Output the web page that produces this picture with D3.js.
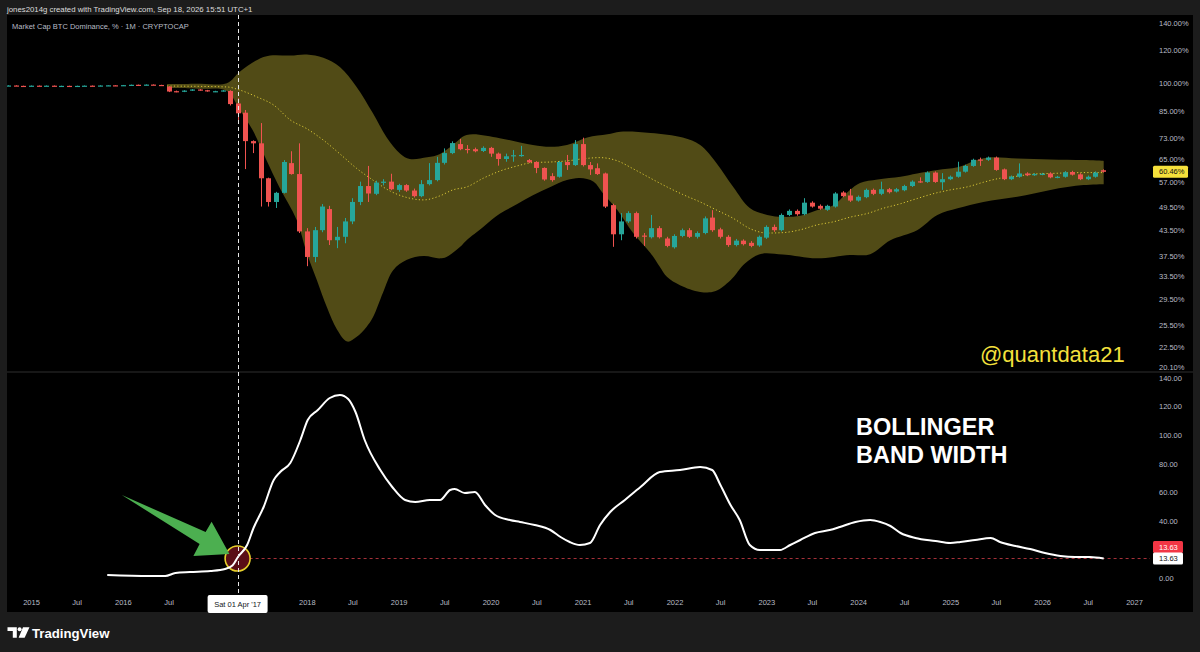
<!DOCTYPE html>
<html><head><meta charset="utf-8">
<script src="https://cdn.jsdelivr.net/npm/d3@7"></script>
<style>
html,body{margin:0;padding:0;background:#1c1c1c;}
svg{display:block;}
text{font-family:"Liberation Sans",Arial,sans-serif;}
</style></head><body>
<svg id="c" width="1200" height="652"></svg>
<script>
// ---------------- DATA ----------------
const months = [
 "2014-10","2014-11","2014-12",
 "2015-01","2015-02","2015-03","2015-04","2015-05","2015-06","2015-07","2015-08","2015-09","2015-10","2015-11","2015-12",
 "2016-01","2016-02","2016-03","2016-04","2016-05","2016-06","2016-07","2016-08","2016-09","2016-10","2016-11","2016-12",
 "2017-01","2017-02","2017-03","2017-04","2017-05","2017-06","2017-07","2017-08","2017-09","2017-10","2017-11","2017-12",
 "2018-01","2018-02","2018-03","2018-04","2018-05","2018-06","2018-07","2018-08","2018-09","2018-10","2018-11","2018-12",
 "2019-01","2019-02","2019-03","2019-04","2019-05","2019-06","2019-07","2019-08","2019-09","2019-10","2019-11","2019-12",
 "2020-01","2020-02","2020-03","2020-04","2020-05","2020-06","2020-07","2020-08","2020-09","2020-10","2020-11","2020-12",
 "2021-01","2021-02","2021-03","2021-04","2021-05","2021-06","2021-07","2021-08","2021-09","2021-10","2021-11","2021-12",
 "2022-01","2022-02","2022-03","2022-04","2022-05","2022-06","2022-07","2022-08","2022-09","2022-10","2022-11","2022-12",
 "2023-01","2023-02","2023-03","2023-04","2023-05","2023-06","2023-07","2023-08","2023-09","2023-10","2023-11","2023-12",
 "2024-01","2024-02","2024-03","2024-04","2024-05","2024-06","2024-07","2024-08","2024-09","2024-10","2024-11","2024-12",
 "2025-01","2025-02","2025-03","2025-04","2025-05","2025-06","2025-07","2025-08","2025-09","2025-10","2025-11","2025-12",
 "2026-01","2026-02","2026-03","2026-04","2026-05","2026-06","2026-07","2026-08","2026-09"
];
const opens = [
 98.2,98.4,98.2,
 98.1,98.3,98.2,98.3,98.1,98.2,98.0,98.2,98.3,98.1,98.4,98.5,
 98.3,98.6,98.8,98.6,98.9,98.7,97.8,95.3,95.0,95.6,96.2,95.8,
 95.0,95.3,95.4,88.9,84.4,71.9,71.0,58.3,51.0,53.7,63.5,59.7,
 43.2,37.4,43.5,49.0,41.1,41.9,45.7,51.0,55.8,53.4,56.8,57.2,
 54.6,56.1,54.4,52.7,56.4,57.7,63.6,67.2,70.7,68.8,68.7,68.0,
 69.2,67.0,65.0,66.0,66.2,64.6,63.9,61.8,59.0,58.8,63.9,62.8,
 70.7,62.8,61.7,59.9,50.1,42.5,45.7,47.9,42.2,41.8,44.0,41.5,
 39.5,42.1,43.5,41.9,42.8,46.7,43.7,41.9,40.0,41.0,40.5,39.9,
 41.7,44.3,43.5,47.4,48.5,47.6,50.8,49.9,48.8,49.7,53.8,52.9,
 51.4,52.4,54.6,53.4,54.8,54.1,54.5,55.8,57.3,57.1,60.2,57.0,
 58.0,58.8,60.5,62.5,64.8,64.7,65.5,61.3,58.0,58.8,59.9,59.4,
 59.6,59.9,58.6,58.8,60.4,59.6,58.0,58.8,61.0
];
const closes = [
 98.4,98.2,98.1,
 98.3,98.2,98.3,98.1,98.2,98.0,98.2,98.3,98.1,98.4,98.5,98.3,
 98.6,98.8,98.6,98.9,98.7,98.6,95.1,94.9,95.6,96.2,95.8,95.2,
 95.3,95.7,88.6,84.1,71.9,71.0,58.3,51.0,53.7,63.9,59.7,43.2,
 37.4,43.5,49.7,41.1,41.9,45.7,51.0,55.8,53.5,56.9,57.2,54.8,
 56.1,54.4,52.7,56.4,57.7,63.6,67.2,71.1,68.7,68.5,67.9,69.2,
 67.0,65.0,66.0,66.4,66.5,63.8,61.8,57.9,57.7,63.9,62.8,70.7,
 62.8,61.3,59.7,49.7,42.5,45.7,47.9,41.9,42.0,44.0,41.8,39.8,
 42.1,43.5,41.9,42.8,46.5,43.5,41.9,40.0,41.0,40.2,39.8,41.9,
 44.3,43.5,47.4,48.5,47.6,50.8,49.7,49.1,49.9,53.5,52.7,51.4,
 52.5,54.6,53.4,54.8,53.9,54.8,55.8,57.2,57.1,60.2,57.1,58.0,
 58.8,60.5,62.5,64.7,64.6,65.5,61.1,58.0,58.8,59.9,59.3,59.7,
 59.8,58.6,58.8,60.3,59.5,58.0,58.8,60.2,60.46
];
const highs = [
 98.5,98.5,98.3,
 98.4,98.4,98.4,98.4,98.3,98.3,98.3,98.4,98.4,98.5,98.6,98.6,
 98.7,98.9,98.9,99.0,99.0,98.8,98.0,95.6,95.8,96.4,96.4,96.0,
 95.5,95.9,95.8,91.6,85.7,72.2,79.6,58.5,54.0,64.6,67.9,71.0,
 44.0,44.3,50.4,49.9,44.3,46.6,52.1,57.2,62.5,57.5,58.0,59.8,
 56.5,56.4,55.0,57.7,63.5,65.8,69.0,71.8,72.8,70.3,69.3,69.8,
 69.6,67.4,67.0,68.4,70.0,65.0,64.2,62.0,60.0,64.3,66.5,72.3,
 73.3,63.9,63.4,60.2,50.5,47.9,48.4,48.3,42.8,47.4,44.5,41.9,
 42.5,43.9,44.0,43.2,47.0,48.7,44.1,42.3,41.4,41.3,40.9,42.2,
 44.7,44.9,47.8,48.9,48.9,52.1,51.2,50.3,50.2,53.9,54.2,54.9,
 52.9,55.0,55.0,57.2,55.2,55.2,56.2,57.6,58.6,60.6,60.6,60.0,
 59.2,64.0,62.9,65.1,65.5,65.9,65.9,61.6,59.2,63.4,60.3,60.0,
 60.1,60.3,59.1,60.7,60.8,60.0,59.2,60.6,61.3
];
const lows = [
 98.1,98.1,98.0,
 98.0,98.1,98.1,98.0,98.0,97.9,97.9,98.1,98.0,98.0,98.3,98.2,
 98.2,98.5,98.5,98.5,98.6,98.5,94.8,94.7,94.8,95.4,95.6,95.0,
 94.8,95.1,87.9,81.0,61.4,67.2,49.7,49.7,49.3,53.5,59.5,42.8,
 35.5,36.3,43.0,40.0,39.3,40.4,45.0,50.1,51.0,53.0,56.0,54.5,
 54.0,54.0,52.3,52.4,56.0,57.3,63.0,66.8,68.3,67.1,67.5,67.6,
 65.8,62.6,64.0,64.0,65.8,63.5,60.0,57.5,57.2,58.5,61.1,62.5,
 62.3,59.4,59.4,49.3,39.6,41.1,45.3,41.5,39.8,41.5,41.5,39.5,
 39.2,41.8,41.6,41.5,42.5,43.1,41.5,39.6,39.7,39.9,39.5,39.6,
 41.4,43.1,43.2,47.1,47.2,47.3,49.4,48.8,48.5,49.4,52.4,51.0,
 51.1,52.1,53.0,53.0,53.5,53.8,54.2,55.5,56.8,56.8,56.8,54.6,
 57.7,58.5,60.2,62.2,62.5,64.3,60.8,57.7,57.7,58.5,59.0,59.1,
 59.3,58.3,58.3,58.5,59.2,57.7,57.7,58.5,60.2
];
// Bollinger Bands (20, 2), positions in decimal years
const upperYears = [2016.48,2016.84,2017.13,2017.27,2017.46,2017.60,2017.82,2018.00,2018.18,2018.36,2018.54,2018.72,2018.87,2019.02,2019.12,2019.31,2019.45,2019.59,2019.74,2020.10,2020.46,2020.65,2020.83,2021.05,2021.27,2021.41,2021.74,2022.09,2022.28,2022.46,2022.64,2022.82,2023.01,2023.18,2023.37,2023.55,2023.73,2023.91,2024.02,2024.21,2024.46,2024.64,2024.86,2025.08,2025.29,2025.44,2025.73,2026.09,2026.45,2026.67];
const upperValues = [99.2,99.4,99.6,106.3,113.7,116.5,116.5,117.2,115.0,109.2,97.7,84.1,73.4,66.9,65.0,65.6,66.9,70.3,74.4,73.1,70.3,69.6,70.3,73.4,74.7,75.8,75.3,73.4,70.3,63.4,55.5,49.3,47.4,46.9,47.2,48.7,50.1,54.6,56.8,57.9,58.8,59.9,61.1,62.0,64.6,65.6,65.2,64.8,64.6,64.3];
const lowerYears = [2016.48,2016.84,2017.13,2017.27,2017.41,2017.56,2017.70,2017.89,2018.00,2018.11,2018.22,2018.33,2018.44,2018.54,2018.65,2018.72,2018.83,2018.94,2019.09,2019.27,2019.45,2019.52,2019.67,2019.74,2019.92,2020.10,2020.29,2020.46,2020.65,2020.83,2020.97,2021.12,2021.22,2021.38,2021.55,2021.74,2021.84,2021.92,2022.06,2022.28,2022.44,2022.61,2022.77,2022.93,2023.18,2023.55,2023.91,2024.13,2024.35,2024.64,2024.86,2025.08,2025.36,2025.73,2026.09,2026.45,2026.67];
const lowerValues = [97.0,96.6,95.4,85.7,76.5,64.6,55.5,46.1,38.2,32.8,28.1,24.8,23.2,23.8,25.2,26.6,30.6,34.7,36.8,37.6,37.1,37.4,39.6,41.1,44.3,47.7,50.4,53.0,55.5,57.7,58.4,57.2,53.6,48.7,42.8,38.2,35.4,33.4,31.9,30.7,30.8,32.8,36.1,38.0,37.9,37.1,37.8,38.0,41.1,43.5,47.4,49.2,51.0,52.5,54.6,56.1,56.4];
const basisYears = [2016.48,2017.13,2017.27,2017.46,2017.64,2017.82,2018.00,2018.18,2018.36,2018.54,2018.72,2018.91,2019.09,2019.27,2019.45,2019.59,2019.74,2019.92,2020.10,2020.29,2020.46,2020.65,2020.83,2021.01,2021.19,2021.38,2021.55,2021.74,2021.92,2022.09,2022.28,2022.46,2022.64,2022.82,2023.01,2023.18,2023.37,2023.55,2023.73,2023.91,2024.10,2024.27,2024.46,2024.64,2024.81,2025.00,2025.18,2025.36,2025.54,2025.73,2025.90,2026.09,2026.45,2026.67];
const basisValues = [98.1,97.6,95.9,92.2,88.1,81.0,77.1,72.3,66.9,61.7,57.7,54.2,52.3,51.6,52.8,54.6,55.5,58.3,60.7,62.5,63.7,63.9,64.3,65.1,65.5,64.3,61.5,58.3,55.5,53.2,51.0,48.7,46.5,43.9,42.8,42.9,43.6,44.8,45.6,46.8,47.8,49.2,50.5,52.0,53.4,54.6,55.5,57.0,58.3,59.0,59.7,59.9,60.2,60.2];
// Bollinger Band Width
const bbwYears = [2015.83,2016.29,2016.46,2016.57,2016.73,2016.95,2017.11,2017.19,2017.25,2017.35,2017.42,2017.53,2017.64,2017.71,2017.82,2017.93,2018.01,2018.12,2018.25,2018.36,2018.45,2018.53,2018.63,2018.80,2018.93,2019.07,2019.18,2019.34,2019.45,2019.56,2019.61,2019.72,2019.83,2019.94,2020.05,2020.21,2020.32,2020.48,2020.65,2020.76,2020.86,2020.97,2021.08,2021.19,2021.30,2021.46,2021.63,2021.84,2022.06,2022.28,2022.41,2022.50,2022.61,2022.71,2022.82,2022.93,2023.15,2023.26,2023.37,2023.53,2023.69,2023.80,2023.97,2024.13,2024.24,2024.35,2024.46,2024.62,2024.84,2025.00,2025.11,2025.27,2025.44,2025.54,2025.71,2025.87,2026.03,2026.20,2026.36,2026.52,2026.67];
const bbwValues = [2.1,1.4,1.4,3.5,4.2,4.9,6.3,8.7,14.7,23.1,35.0,49.7,68.6,74.2,80.5,96.6,110.6,117.6,126.0,128.1,125.3,116.2,96.6,75.6,63.7,54.6,53.2,54.6,54.6,61.6,62.3,59.5,60.2,51.1,44.1,40.6,39.2,37.1,33.6,28.7,25.2,23.1,24.5,37.1,46.2,54.6,63.7,74.2,75.6,77.7,75.6,65.1,51.1,40.6,23.1,19.6,19.6,23.1,26.6,31.5,33.6,35.7,39.2,40.6,39.2,36.4,31.5,28.0,25.9,24.5,25.2,26.6,28.0,25.2,22.4,20.3,17.5,15.4,14.7,14.7,13.63];
// Axis ticks
const priceTicks = [140,120,100,85,73,65,57,49.5,43.5,37.5,33.5,29.5,25.5,22.5,20.1];
const bbwTicks = [0,40,60,80,100,120,140];
const timeTickLabels = ["2015","Jul","2016","Jul","2017","Jul","2018","Jul","2019","Jul","2020","Jul","2021","Jul","2022","Jul","2023","Jul","2024","Jul","2025","Jul","2026","Jul","2027"];
const lastPrice = 60.46, lastBBW = 13.63;
const crosshairMonth = "2017-04", crosshairLabel = "Sat 01 Apr '17";

// ---------------- RENDER ----------------
const svg = d3.select("#c");
const W = 1200, H = 652;
const L = 7, R = 1193, T = 15, B = 612, plotR = 1150;
const paneSplit = 372, timeTop = 592;
const parseMonth = d3.utcParse("%Y-%m");
function fromDecimalYear(v){const yr=Math.floor(v);const a=Date.UTC(yr,0,1),b=Date.UTC(yr+1,0,1);return new Date(a+(v-yr)*(b-a));}

const x = d3.scaleUtc().domain([new Date(Date.UTC(2015,0,1)), new Date(Date.UTC(2027,0,1))]).range([31,1134]);
const yTop = d3.scaleLog().domain([20.1,140]).range([367,23]);
const yBot = d3.scaleLinear().domain([0,140]).range([578,378]);

svg.append("rect").attr("width",W).attr("height",H).attr("fill","#1c1c1c");
svg.append("rect").attr("x",L).attr("y",T).attr("width",R-L).attr("height",B-T).attr("fill","#000");

// header
svg.append("text").attr("x",7).attr("y",12).attr("font-size","7.8px").attr("fill","#dcdcdc")
  .text("jones2014g created with TradingView.com, Sep 18, 2026 15:51 UTC+1");

const defs = svg.append("defs");
defs.append("clipPath").attr("id","clipTop").append("rect").attr("x",L).attr("y",T).attr("width",plotR-L).attr("height",paneSplit-T);
defs.append("clipPath").attr("id","clipBot").append("rect").attr("x",L).attr("y",paneSplit).attr("width",plotR-L).attr("height",timeTop-paneSplit);

// pane separator
svg.append("line").attr("x1",L).attr("x2",R).attr("y1",paneSplit).attr("y2",paneSplit).attr("stroke","#2e2e2e").attr("stroke-width",1);

const topPane = svg.append("g").attr("clip-path","url(#clipTop)");
const curve = d3.curveCatmullRom.alpha(0.5);
const upPts = upperYears.map((d,i)=>[x(fromDecimalYear(d)), yTop(upperValues[i])]);
const loPts = lowerYears.map((d,i)=>[x(fromDecimalYear(d)), yTop(lowerValues[i])]).reverse();
const ln = d3.line().curve(curve);
const bandPath = ln(upPts) + "L" + ln(loPts).slice(1) + "Z";
topPane.append("path").attr("d",bandPath).attr("fill","#514b16");

topPane.append("path")
  .attr("d", d3.line().curve(d3.curveMonotoneX).x(d=>x(fromDecimalYear(d[0]))).y(d=>yTop(d[1]))(basisYears.map((d,i)=>[d,basisValues[i]])))
  .attr("fill","none").attr("stroke","#d8c636").attr("stroke-width",1).attr("stroke-dasharray","1.2 2.2");

const upColor = "#26a69a", dnColor = "#ef5350";
const candles = months.map((m,i)=>({d:parseMonth(m),o:opens[i],h:highs[i],l:lows[i],c:closes[i]}));
const cg = topPane.append("g");
cg.selectAll("line").data(candles).join("line")
  .attr("x1",d=>Math.round(x(d.d))+0.5).attr("x2",d=>Math.round(x(d.d))+0.5)
  .attr("y1",d=>yTop(d.h)).attr("y2",d=>yTop(d.l))
  .attr("stroke",d=>d.c>=d.o?upColor:dnColor).attr("stroke-width",1);
cg.selectAll("rect").data(candles).join("rect")
  .attr("x",d=>Math.round(x(d.d))-2).attr("width",5)
  .attr("y",d=>yTop(Math.max(d.o,d.c)))
  .attr("height",d=>Math.max(1.2, yTop(Math.min(d.o,d.c))-yTop(Math.max(d.o,d.c))))
  .attr("fill",d=>d.c>=d.o?upColor:dnColor);

// legend & watermark
svg.append("text").attr("x",12).attr("y",29).attr("font-size","7.5px").attr("fill","#b8bcc6")
  .text("Market Cap BTC Dominance, % · 1M · CRYPTOCAP");
svg.append("text").attr("x",980).attr("y",362).attr("font-size","22px").attr("fill","#f4e03c")
  .text("@quantdata21");

// ---- bottom pane ----
const botPane = svg.append("g").attr("clip-path","url(#clipBot)");
const chX = x(parseMonth(crosshairMonth));
const cy = yBot(lastBBW);
botPane.append("line").attr("x1",chX).attr("x2",plotR).attr("y1",cy).attr("y2",cy)
  .attr("stroke","#a8323a").attr("stroke-width",1).attr("stroke-dasharray","3 3");
botPane.append("circle").attr("cx",chX).attr("cy",cy).attr("r",12.5)
  .attr("fill","#5a0e16").attr("stroke","#e6cf2b").attr("stroke-width",1.6);
botPane.append("path")
  .attr("d", d3.line().curve(d3.curveMonotoneX).x(d=>x(fromDecimalYear(d[0]))).y(d=>yBot(d[1]))(bbwYears.map((d,i)=>[d,bbwValues[i]])))
  .attr("fill","none").attr("stroke","#ffffff").attr("stroke-width",2);
const arrowOffsets = [[-115.8,-63.5],[-32,-26.5],[-26,-36.8],[-8.2,-4.5],[-44.2,-2.5],[-38,-14.5]];
botPane.append("path").attr("d","M"+arrowOffsets.map(p=>[chX+p[0],cy+p[1]].join(",")).join("L")+"Z")
  .attr("fill","#4caf50");

svg.append("text").attr("x",856).attr("y",435).attr("font-size","23.5px").attr("font-weight","bold").attr("fill","#fff").text("BOLLINGER");
svg.append("text").attr("x",856).attr("y",463).attr("font-size","23.5px").attr("font-weight","bold").attr("fill","#fff").text("BAND WIDTH");

// crosshair vertical
svg.append("line").attr("x1",Math.round(chX)+0.5).attr("x2",Math.round(chX)+0.5).attr("y1",T).attr("y2",timeTop+2)
  .attr("stroke","#e8e8e8").attr("stroke-width",1).attr("stroke-dasharray","4 3");

// ---- axes ----
const axColor = "#b8bcc6";
function styleAxis(g){g.select(".domain").remove();g.attr("color",axColor);g.selectAll("text").attr("fill",axColor).attr("font-size","7.5px").attr("font-family","'Liberation Sans',Arial,sans-serif");}
svg.append("g").attr("transform","translate(1159,0)")
  .call(d3.axisRight(yTop).tickValues(priceTicks).tickFormat(d=>d.toFixed(2)+"%").tickSize(0).tickPadding(0))
  .call(styleAxis);
svg.append("g").attr("transform","translate(1159,0)")
  .call(d3.axisRight(yBot).tickValues(bbwTicks).tickFormat(d=>d.toFixed(2)).tickSize(0).tickPadding(0))
  .call(styleAxis);
// the crosshair time label covers the tick labels beneath it
const boxW = 60;
const timeTicks = timeTickLabels.map((t,i)=>new Date(Date.UTC(2015+Math.floor(i/2),(i%2)*6,1)));
const timeAxis = svg.append("g").attr("transform",`translate(0,${timeTop})`)
  .call(d3.axisBottom(x).tickValues(timeTicks).tickFormat((d,i)=>timeTickLabels[i]).tickSize(0).tickPadding(8))
  .call(styleAxis);
timeAxis.selectAll(".tick").filter(d=>Math.abs(x(d)-chX) < boxW/2 + 10).remove();

function valueLabel(yc, w, bg, fg, txt){
  const g = svg.append("g");
  g.append("rect").attr("x",1153).attr("y",yc-6).attr("width",w).attr("height",12).attr("rx",1.5).attr("fill",bg);
  g.append("text").attr("x",1159).attr("y",yc).attr("dy","0.34em").attr("font-size","7.5px").attr("fill",fg).text(txt);
}
valueLabel(yTop(lastPrice), 35, "#f5e03b", "#111", lastPrice.toFixed(2)+"%");
valueLabel(cy-11.5, 30, "#f23645", "#fff", lastBBW.toFixed(2));
valueLabel(cy, 30, "#ffffff", "#111", lastBBW.toFixed(2));

const tl = svg.append("g");
tl.append("rect").attr("x",chX-boxW/2).attr("y",timeTop+3).attr("width",boxW).attr("height",18).attr("rx",2).attr("fill","#fff");
tl.append("text").attr("x",chX).attr("y",timeTop+12).attr("dy","0.34em").attr("text-anchor","middle")
  .attr("font-size","7.5px").attr("fill","#131722").text(crosshairLabel);

const logo = svg.append("g").attr("fill","#ffffff");
logo.append("path").attr("d","M7.5,627.3H16.8V637.8H12.8V631H7.5Z");
logo.append("circle").attr("cx",19.6).attr("cy",629.3).attr("r",2);
logo.append("path").attr("d","M23,627.3H29.5L24.6,637.8H18.6Z");
svg.append("text").attr("x",32).attr("y",637.8).attr("font-size","13.2px").attr("font-weight","bold").attr("fill","#fff").text("TradingView");
</script>
</body></html>
